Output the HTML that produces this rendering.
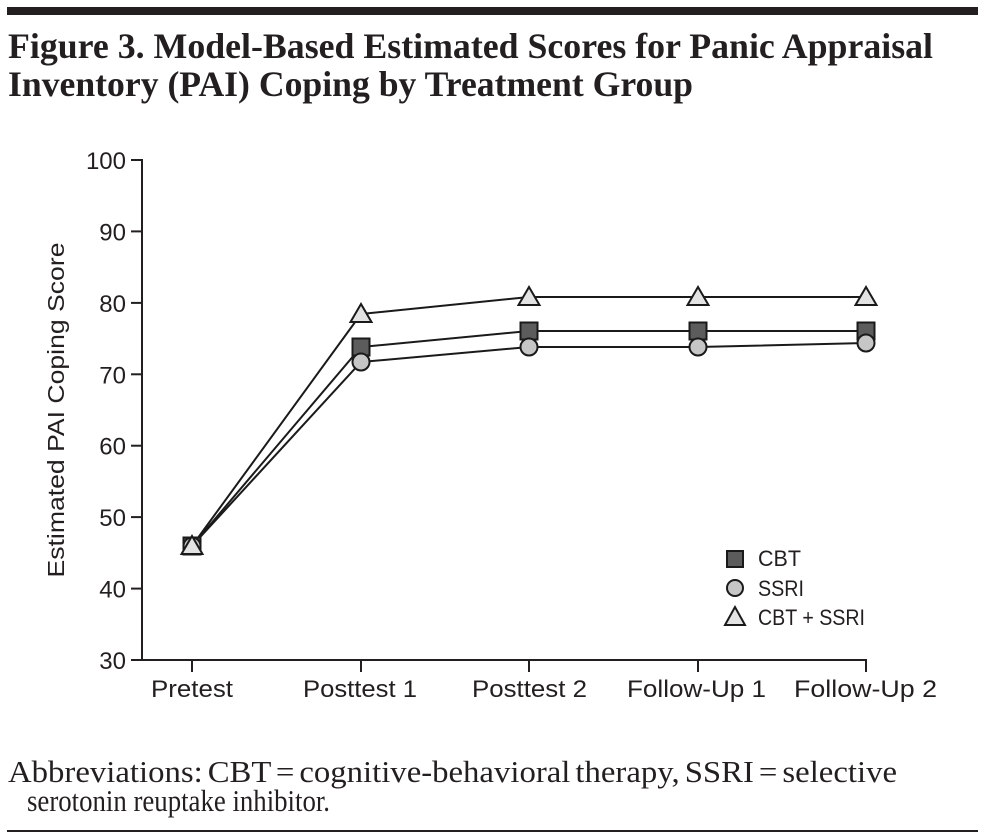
<!DOCTYPE html>
<html>
<head>
<meta charset="utf-8">
<style>
  html, body { margin: 0; padding: 0; background: #ffffff; }
  body { width: 985px; height: 839px; overflow: hidden; }
  svg { display: block; }
  .serif { font-family: "Liberation Serif", "DejaVu Serif", serif; fill: #231f20; }
  .sans { font-family: "Liberation Sans", "DejaVu Sans", sans-serif; fill: #231f20; }
</style>
</head>
<body>
<svg width="985" height="839" viewBox="0 0 985 839" xmlns="http://www.w3.org/2000/svg">
  <rect x="0" y="0" width="985" height="839" fill="#ffffff"/>
  <!-- top bar -->
  <rect x="7" y="7" width="971" height="8" fill="#231f20"/>

  <!-- title -->
  <text class="serif" x="8" y="58" font-size="36" font-weight="bold" textLength="925" lengthAdjust="spacingAndGlyphs">Figure 3. Model-Based Estimated Scores for Panic Appraisal</text>
  <text class="serif" x="8" y="96" font-size="36" font-weight="bold" textLength="685" lengthAdjust="spacingAndGlyphs">Inventory (PAI) Coping by Treatment Group</text>

  <!-- axes -->
  <g stroke="#231f20" stroke-width="2" fill="none">
    <line x1="142" y1="159" x2="142" y2="661"/>
    <line x1="141" y1="660" x2="867" y2="660"/>
    <line x1="131" y1="160" x2="142" y2="160"/>
    <line x1="131" y1="231.4" x2="142" y2="231.4"/>
    <line x1="131" y1="302.9" x2="142" y2="302.9"/>
    <line x1="131" y1="374.3" x2="142" y2="374.3"/>
    <line x1="131" y1="445.7" x2="142" y2="445.7"/>
    <line x1="131" y1="517.1" x2="142" y2="517.1"/>
    <line x1="131" y1="588.6" x2="142" y2="588.6"/>
    <line x1="131" y1="660" x2="142" y2="660"/>
    <line x1="192" y1="660" x2="192" y2="672"/>
    <line x1="361" y1="660" x2="361" y2="672"/>
    <line x1="529" y1="660" x2="529" y2="672"/>
    <line x1="698" y1="660" x2="698" y2="672"/>
    <line x1="866" y1="659" x2="866" y2="672"/>
  </g>

  <!-- y tick labels -->
  <g class="sans" font-size="24" text-anchor="end">
    <text x="126" y="169">100</text>
    <text x="126" y="240.4">90</text>
    <text x="126" y="311.9">80</text>
    <text x="126" y="383.3">70</text>
    <text x="126" y="454.7">60</text>
    <text x="126" y="526.1">50</text>
    <text x="126" y="597.6">40</text>
    <text x="126" y="669">30</text>
  </g>

  <!-- x tick labels -->
  <g class="sans" font-size="24">
    <text x="151" y="697" textLength="82" lengthAdjust="spacingAndGlyphs">Pretest</text>
    <text x="303" y="697" textLength="114" lengthAdjust="spacingAndGlyphs">Posttest 1</text>
    <text x="472" y="697" textLength="115" lengthAdjust="spacingAndGlyphs">Posttest 2</text>
    <text x="627" y="697" textLength="139" lengthAdjust="spacingAndGlyphs">Follow-Up 1</text>
    <text x="794" y="697" textLength="143" lengthAdjust="spacingAndGlyphs">Follow-Up 2</text>
  </g>

  <!-- y axis label -->
  <text class="sans" font-size="23" text-anchor="middle" transform="translate(64,410) rotate(-90)" textLength="335" lengthAdjust="spacingAndGlyphs">Estimated PAI Coping Score</text>

  <!-- series lines -->
  <g stroke="#1a1a1a" stroke-width="2" fill="none" stroke-linejoin="round">
    <polyline points="192,546 361,347 529,331 698,331 866,331"/>
    <polyline points="192,546 361,362 529,347 698,347 866,343"/>
    <polyline points="192,546 361,314 529,297 698,297 866,297"/>
  </g>

  <!-- markers -->
  <g stroke="#1a1a1a" stroke-width="2">
    <g fill="#5c5c5c">
      <rect x="183.5" y="537.5" width="17" height="17"/>
      <rect x="352.5" y="338.5" width="17" height="17"/>
      <rect x="520.5" y="322.5" width="17" height="17"/>
      <rect x="689.5" y="322.5" width="17" height="17"/>
      <rect x="857.5" y="322.5" width="17" height="17"/>
    </g>
    <g fill="#c6c6c6">
      <circle cx="192" cy="546" r="8.5"/>
      <circle cx="361" cy="362" r="8.5"/>
      <circle cx="529" cy="347" r="8.5"/>
      <circle cx="698" cy="347" r="8.5"/>
      <circle cx="866" cy="343" r="8.5"/>
    </g>
    <g fill="#e3e3e3" stroke-linejoin="miter">
      <polygon points="192,536 181.5,554 202.5,554"/>
      <polygon points="361,304 350.5,322 371.5,322"/>
      <polygon points="529,287 518.5,305 539.5,305"/>
      <polygon points="698,287 687.5,305 708.5,305"/>
      <polygon points="866,287 855.5,305 876.5,305"/>
    </g>
  </g>

  <!-- legend -->
  <g stroke="#1a1a1a" stroke-width="2">
    <rect x="727" y="551" width="16" height="16" fill="#5c5c5c"/>
    <circle cx="735" cy="588" r="8" fill="#c6c6c6"/>
    <polygon points="735,607 725,625 745,625" fill="#e3e3e3"/>
  </g>
  <g class="sans" font-size="22">
    <text x="758" y="566" textLength="43" lengthAdjust="spacingAndGlyphs">CBT</text>
    <text x="758" y="596" textLength="46" lengthAdjust="spacingAndGlyphs">SSRI</text>
    <text x="758" y="625" textLength="107" lengthAdjust="spacingAndGlyphs">CBT + SSRI</text>
  </g>

  <!-- footnote -->
  <text class="serif" x="8" y="782" font-size="31" word-spacing="-3" textLength="889" lengthAdjust="spacingAndGlyphs">Abbreviations: CBT = cognitive-behavioral therapy, SSRI = selective</text>
  <text class="serif" x="27" y="811" font-size="31" textLength="303" lengthAdjust="spacingAndGlyphs">serotonin reuptake inhibitor.</text>

  <!-- bottom rule -->
  <rect x="7" y="830" width="971" height="2" fill="#231f20"/>
</svg>
</body>
</html>
